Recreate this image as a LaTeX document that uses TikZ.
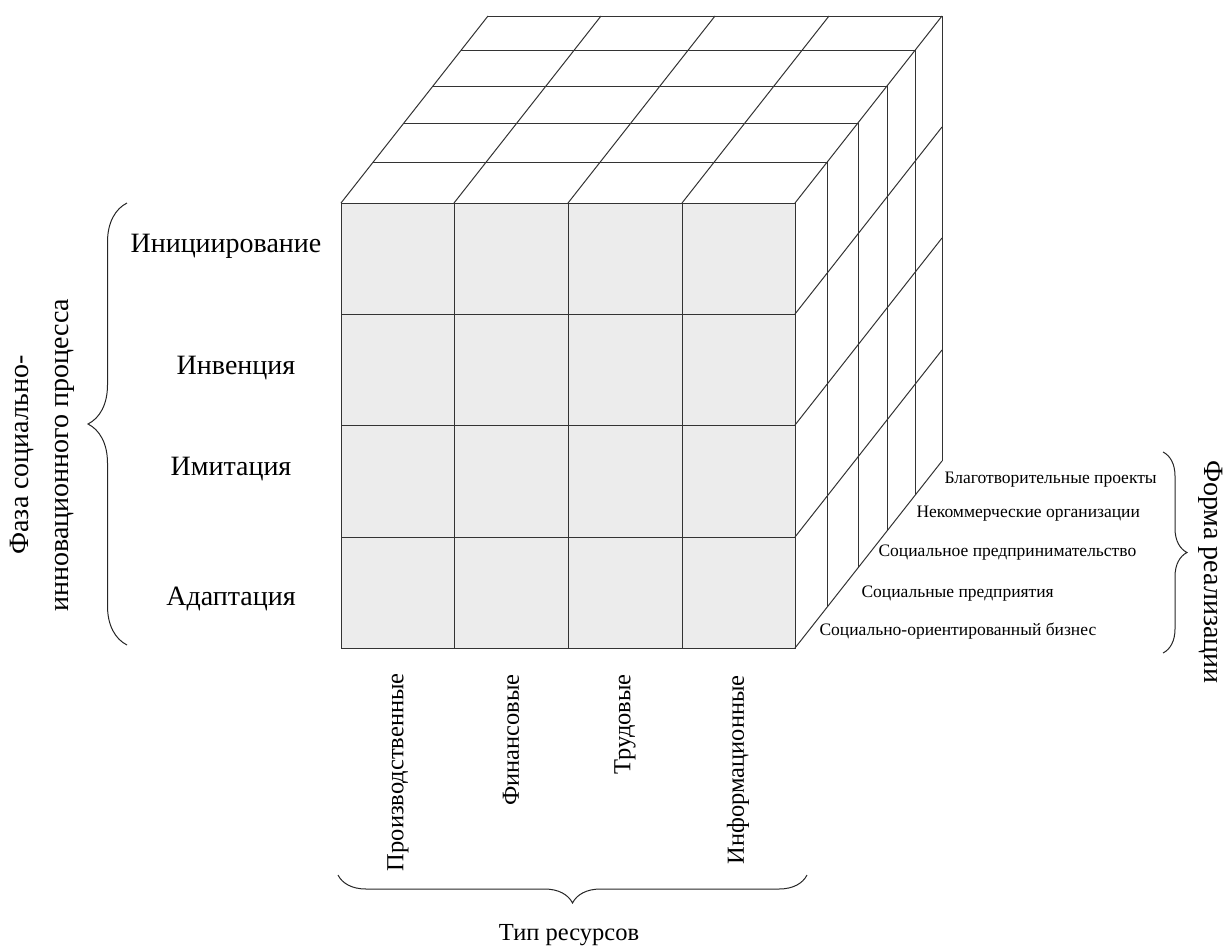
\documentclass[tikz,border=0pt]{standalone}
\usepackage{fontspec}
\setmainfont{Liberation Serif}
\usetikzlibrary{decorations.pathreplacing}

\begin{document}
\begin{tikzpicture}[x=1pt,y=-1pt,
        edge/.style={draw=black!80,line width=1pt},
        big/.style={font=\fontsize{28}{40}\selectfont},
        res/.style={font=\fontsize{24.5}{30}\selectfont},
        small/.style={font=\fontsize{17.5}{21}\selectfont,anchor=base west},
        curly/.style={draw=black!85,line width=1pt,decorate,decoration={brace,amplitude=#1}}]
            \useasboundingbox (0,0) rectangle (1231,945);

            % front face
            \fill[gray!15] (341,203) rectangle (795,648);
            \draw[edge] (341,203) rectangle (795,648);
            \draw[edge] (454,203) -- (454,648);
            \draw[edge] (568,203) -- (568,648);
            \draw[edge] (682,203) -- (682,648);
            \draw[edge] (341,314) -- (795,314);
            \draw[edge] (341,425) -- (795,425);
            \draw[edge] (341,537) -- (795,537);

            % top face
            \draw[edge] (373,162) -- (827,162);
            \draw[edge] (404,123) -- (858,123);
            \draw[edge] (433,86) -- (887,86);
            \draw[edge] (461,50) -- (915,50);
            \draw[edge] (488,16) -- (942,16);
            \draw[edge] (341,203) -- (488,16);
            \draw[edge] (454,203) -- (601,16);
            \draw[edge] (568,203) -- (715,16);
            \draw[edge] (682,203) -- (829,16);
            \draw[edge] (795,203) -- (942,16);

            % right face
            \draw[edge] (827,162) -- (827,607);
            \draw[edge] (858,123) -- (858,568);
            \draw[edge] (887,86) -- (887,531);
            \draw[edge] (915,50) -- (915,495);
            \draw[edge] (942,16) -- (942,461);
            \draw[edge] (795,314) -- (942,127);
            \draw[edge] (795,425) -- (942,238);
            \draw[edge] (795,537) -- (942,350);
            \draw[edge] (795,648) -- (942,461);

            % phases
            \node[big,anchor=base] (init) at (226,252) {Инициирование};
            \node[big,anchor=base] (inv) at (236,374) {Инвенция};
            \node[big,anchor=base] (imit) at (231,475) {Имитация};
            \node[big,anchor=base] (adapt) at (231,605) {Адаптация};
            \node[big,rotate=90,align=center] (phase) at (42,455) {Фаза социально-\\инновационного процесса};

            % resources
            \node[res,rotate=90,anchor=east,inner sep=0pt] (prod) at (398,673) {Производственные};
            \node[res,rotate=90,anchor=east,inner sep=0pt] (fin) at (511,674) {Финансовые};
            \node[res,rotate=90,anchor=east,inner sep=0pt] (lab) at (625,674) {Трудовые};
            \node[res,rotate=90,anchor=east,inner sep=0pt] (info) at (738,675) {Информационные};
            \node[res,anchor=base] (restype) at (569,940) {Тип ресурсов};

            % forms
            \node[small] (charity) at (941,483) {Благотворительные проекты};
            \node[small] (nonprofit) at (913,517) {Некоммерческие организации};
            \node[small] (socent) at (875,556) {Социальное предпринимательство};
            \node[small] (socfirm) at (858,597) {Социальные предприятия};
            \node[small] (socbiz) at (816,635) {Социально-ориентированный бизнес};
            \node[big,rotate=-90] (form) at (1211,572) {Форма реализации};

            % braces
            \coordinate (lb1) at (127,645);
            \coordinate (lb2) at (127,203);
            \coordinate (bb1) at (807,875);
            \coordinate (bb2) at (338,875);
            \coordinate (rb1) at (1163,452);
            \coordinate (rb2) at (1163,653);
            \draw[curly=39pt] (lb1) -- (lb2);
            \draw[curly=28pt] (bb1) -- (bb2);
            \draw[curly=24pt] (rb1) -- (rb2);
        \end{tikzpicture}
\end{document}
